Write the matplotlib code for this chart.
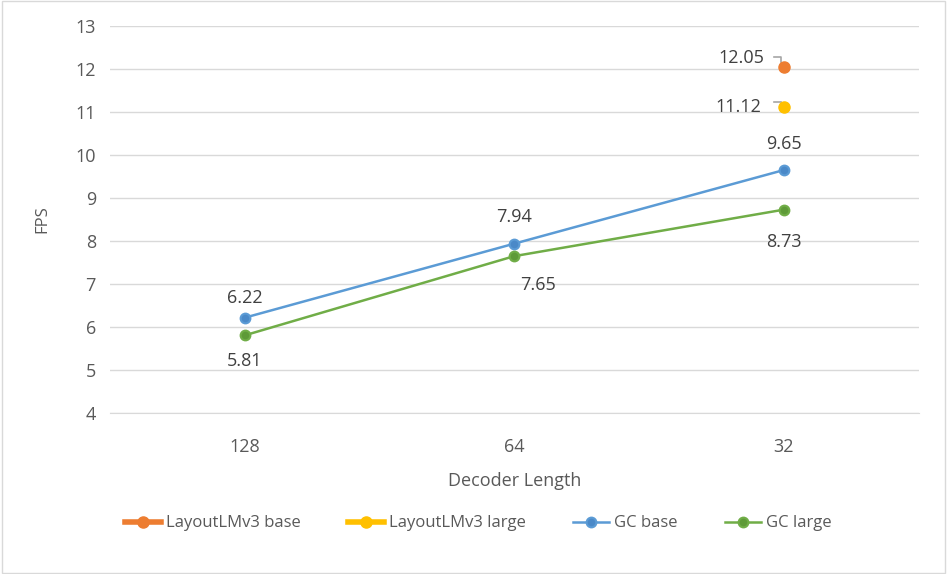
import matplotlib.pyplot as plt

# data
lengths = ['128', '64', '32']
gc_base = [6.22, 7.94, 9.65]
gc_large = [5.81, 7.65, 8.73]
lmv3_base = [12.05]
lmv3_large = [11.12]

plt.rcParams['font.family'] = ['Open Sans', 'DejaVu Sans']
txt = '#595959'

fig = plt.figure(figsize=(9.47, 5.74), dpi=100)
ax = fig.add_axes([0.116, 0.280, 0.854, 0.675])

x = list(range(len(lengths)))
ax.plot(x, gc_base, color='#5B9BD5', lw=1.8, marker='o', ms=7,
        mfc='#4A89C8', mec='#5B9BD5', mew=1.5, label='GC base', zorder=3)
ax.plot(x, gc_large, color='#70AD47', lw=1.8, marker='o', ms=7,
        mfc='#5E9A38', mec='#70AD47', mew=1.5, label='GC large', zorder=3)
ax.plot([2], lmv3_base, color='#ED7D31', lw=4, marker='o', ms=8,
        mfc='#ED7D31', mec='#ED7D31', label='LayoutLMv3 base', zorder=3)
ax.plot([2], lmv3_large, color='#FFC000', lw=4, marker='o', ms=8,
        mfc='#FFC000', mec='#FFC000', label='LayoutLMv3 large', zorder=3)

# data labels
fs = 13
up = [(0, 8), (0, 12.5), (0, 12.5)]
for i, v in enumerate(gc_base):
    ax.annotate(f'{v:.2f}', (i, v), xytext=up[i], textcoords='offset points',
                ha='center', va='bottom', fontsize=fs, color='#404040')
down = [(0, -12), (17, -14), (0, -16.5)]
for i, v in enumerate(gc_large):
    ax.annotate(f'{v:.2f}', (i, v), xytext=down[i], textcoords='offset points',
                ha='center', va='top', fontsize=fs, color='#404040')
ax.annotate(f'{lmv3_base[0]:.2f}', (2, lmv3_base[0]), xytext=(-14, 6),
            textcoords='offset points', ha='right', va='center', fontsize=fs,
            color='#404040')
ax.annotate(f'{lmv3_large[0]:.2f}', (2, lmv3_large[0]), xytext=(-16, 0),
            textcoords='offset points', ha='right', va='center', fontsize=fs,
            color='#404040')
# small leader lines
ax.plot([1.965, 1.988, 1.988], [12.27, 12.27, 12.17], color='#A6A6A6', lw=1.2, zorder=2)
ax.plot([1.962, 1.99], [11.24, 11.24], color='#A6A6A6', lw=1.2, zorder=2)

ax.set_xlim(-0.5, 2.5)
ax.set_ylim(4, 13)
ax.set_yticks(range(4, 14))
ax.set_xticks(x)
ax.set_xticklabels(lengths)
ax.grid(axis='y', color='#D9D9D9', lw=1)
ax.set_axisbelow(True)
for s in ['top', 'right', 'left']:
    ax.spines[s].set_visible(False)
ax.spines['bottom'].set_color('#D9D9D9')
ax.tick_params(length=0, labelsize=13, colors=txt)
ax.tick_params(axis='x', pad=18)
ax.tick_params(axis='y', pad=10)
ax.set_ylabel('FPS', fontsize=12, color=txt, labelpad=18)
ax.set_xlabel('Decoder Length', fontsize=13, color=txt, labelpad=11)

handles, labels = ax.get_legend_handles_labels()
order = [2, 3, 0, 1]
fig.legend([handles[i] for i in order], [labels[i] for i in order],
           loc='center', bbox_to_anchor=(0.505, 0.088), ncol=4, frameon=False,
           fontsize=12, labelcolor=txt, handlelength=2.2, columnspacing=2.8,
           handletextpad=0.3)

border = plt.Rectangle((0.002, 0.002), 0.996, 0.996, transform=fig.transFigure,
                       fill=False, ec='#D9D9D9', lw=1)
fig.patches.append(border)

fig.savefig('out.png', dpi=100, facecolor='white')
